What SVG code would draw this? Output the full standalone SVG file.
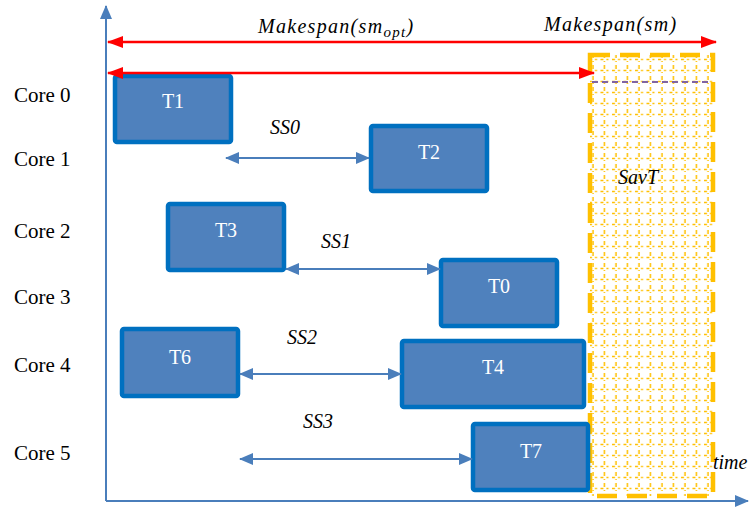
<svg xmlns="http://www.w3.org/2000/svg" width="750" height="510" viewBox="0 0 750 510">
<style>
text{font-family:"Liberation Serif","Times New Roman","DejaVu Serif",serif}
.core{font-size:21px;fill:#000}
.tl{font-size:20px;fill:#fff;text-anchor:middle}
.task{fill:#4f81bd;stroke:#0070c0;stroke-width:4.5}
.ss{font-style:italic;font-size:20px;fill:#000}
.mk{font-style:italic;font-size:20px;fill:#000;letter-spacing:1.3px}
.blue{stroke:#4a7ebb;stroke-width:2;fill:none}
.red{stroke:#ff0000;stroke-width:2.5;fill:none}
</style>
<defs>
<marker id="ab2" markerWidth="14" markerHeight="12" refX="13" refY="6" orient="auto-start-reverse" markerUnits="userSpaceOnUse" viewBox="0 0 14 12"><path d="M0,0 L14,6 L0,12 z" fill="#4a7ebb"/></marker>
<marker id="ar" markerWidth="16" markerHeight="12" refX="15" refY="6" orient="auto-start-reverse" markerUnits="userSpaceOnUse" viewBox="0 0 16 12"><path d="M0,0 L16,6 L0,12 z" fill="#ff0000"/></marker>
<pattern id="hatch" x="588" y="53" width="11.5" height="11" patternUnits="userSpaceOnUse">
<path d="M5,1 V5" stroke="#ffc000" stroke-width="1.5"/>
<path d="M5,8 V9" stroke="#ffc000" stroke-width="1.5"/>
<path d="M1,6.5 H4 M7,6.5 H9" stroke="#ffc000" stroke-width="1.5"/>
</pattern>
</defs>

<g id="axes">
<line class="blue" x1="106" y1="501" x2="106" y2="6" marker-end="url(#ab2)"/>
<line class="blue" x1="106" y1="501" x2="748" y2="501" marker-end="url(#ab2)"/>
</g>

<g id="savt">
<rect x="590" y="55" width="123" height="441" fill="url(#hatch)"/>
<rect x="590" y="55" width="123" height="441" fill="none" stroke="#ffc000" stroke-width="4.5" stroke-dasharray="20,10"/>
<line x1="592" y1="82" x2="711" y2="82" stroke="#8064a2" stroke-width="2" stroke-dasharray="6,4"/>
<text class="ss" x="618" y="184">SavT</text>
</g>

<g id="labels">
<text class="core" x="14" y="102">Core 0</text>
<text class="core" x="14" y="166">Core 1</text>
<text class="core" x="14" y="238">Core 2</text>
<text class="core" x="14" y="304">Core 3</text>
<text class="core" x="14" y="372">Core 4</text>
<text class="core" x="14" y="460">Core 5</text>
<text class="ss" x="713" y="469" font-size="19">time</text>
<text class="mk" x="258" y="33">Makespan(sm<tspan font-size="15" dy="4">opt</tspan><tspan dy="-4">)</tspan></text>
<text class="mk" x="544" y="31">Makespan(sm)</text>
</g>

<g id="T1"><rect class="task" x="115" y="76" width="116" height="66" rx="2"/><text class="tl" x="173" y="108">T1</text></g>
<g id="T2"><rect class="task" x="371" y="126" width="116" height="65" rx="2"/><text class="tl" x="429" y="159">T2</text></g>
<g id="T3"><rect class="task" x="168" y="204" width="116" height="66" rx="2"/><text class="tl" x="226" y="237">T3</text></g>
<g id="T0"><rect class="task" x="441" y="260" width="116" height="66" rx="2"/><text class="tl" x="499" y="293">T0</text></g>
<g id="T6"><rect class="task" x="122" y="329" width="116" height="67" rx="2"/><text class="tl" x="180" y="364">T6</text></g>
<g id="T4"><rect class="task" x="402" y="341" width="182" height="66" rx="2"/><text class="tl" x="493" y="374">T4</text></g>
<g id="T7"><rect class="task" x="473" y="424" width="115" height="66" rx="2"/><text class="tl" x="531" y="458">T7</text></g>

<g id="connectors">
<line class="red" x1="108" y1="42" x2="716" y2="42" marker-start="url(#ar)" marker-end="url(#ar)"/>
<line class="red" x1="108" y1="73" x2="594" y2="73" marker-start="url(#ar)" marker-end="url(#ar)"/>
<line class="blue" x1="226" y1="158" x2="369" y2="158" marker-start="url(#ab2)" marker-end="url(#ab2)"/>
<line class="blue" x1="286" y1="269" x2="440" y2="269" marker-start="url(#ab2)" marker-end="url(#ab2)"/>
<line class="blue" x1="240" y1="374" x2="401" y2="374" marker-start="url(#ab2)" marker-end="url(#ab2)"/>
<line class="blue" x1="240" y1="459" x2="472" y2="459" marker-start="url(#ab2)" marker-end="url(#ab2)"/>
</g>

<g id="sslabels">
<text class="ss" x="270" y="134">SS0</text>
<text class="ss" x="321" y="248">SS1</text>
<text class="ss" x="287" y="344">SS2</text>
<text class="ss" x="303" y="428">SS3</text>
</g>
</svg>
